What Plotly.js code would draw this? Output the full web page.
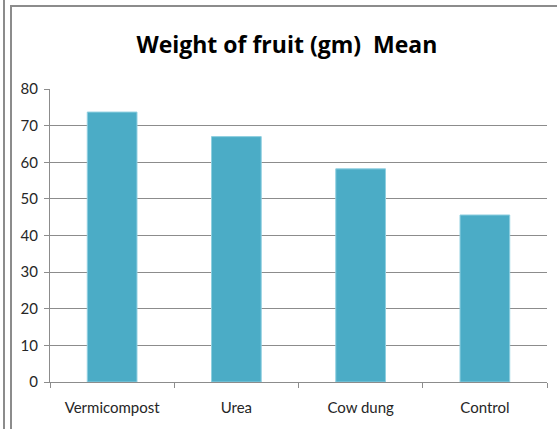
<!DOCTYPE html>
<html>
<head>
<meta charset="utf-8">
<script src="https://cdn.plot.ly/plotly-3.0.1.min.js"></script>
<style>
  html, body { margin: 0; padding: 0; background: #fff; }
  #wrap { position: relative; width: 557px; height: 429px; overflow: hidden; }
  #chart { position: absolute; left: 0; top: 0; width: 557px; height: 429px; }
  .ln { position: absolute; background: #8c8c8c; }
</style>
</head>
<body>
<div id="wrap">
  <div id="chart"></div>
  <div class="ln" style="left:3px; top:0; width:2px; height:429px;"></div>
  <div class="ln" style="left:10px; top:5px; width:2px; height:424px;"></div>
  <div class="ln" style="left:10px; top:5px; width:547px; height:2px;"></div>
</div>
<script>
const categories = ["Vermicompost", "Urea", "Cow dung", "Control"];
const meanWeight = [73.7, 67.0, 58.2, 45.6];
const yTicks = [0, 10, 20, 30, 40, 50, 60, 70, 80];

const trace = {
  type: "bar",
  x: categories,
  y: meanWeight,
  marker: { color: "#4BACC6", line: { color: "#8fcfe0", width: 1 } },
  hoverinfo: "x+y"
};

const layout = {
  width: 557, height: 429,
  margin: { l: 50, r: 10, t: 89, b: 47 },
  paper_bgcolor: "rgba(0,0,0,0)",
  plot_bgcolor: "rgba(0,0,0,0)",
  bargap: 0.6,
  showlegend: false,
  title: {
    text: "Weight of fruit (gm)&nbsp;&nbsp;Mean",
    font: { family: "Open Sans", size: 23, color: "#000", weight: 700 },
    x: 0.515, xanchor: "center", y: 0.895, yanchor: "middle"
  },
  xaxis: {
    type: "category",
    showline: true, linecolor: "#8c8c8c", linewidth: 1,
    ticks: "outside", tickson: "boundaries", ticklen: 5, tickcolor: "#8c8c8c",
    ticklabelstandoff: 12,
    tickfont: { family: "Lato", size: 15, color: "#262626" },
    showgrid: false, zeroline: false
  },
  yaxis: {
    range: [0, 80],
    tickvals: yTicks,
    showline: true, linecolor: "#8c8c8c", linewidth: 1,
    ticks: "outside", ticklen: 5, tickcolor: "#8c8c8c",
    ticklabelstandoff: 3,
    tickfont: { family: "Lato", size: 15, color: "#262626" },
    showgrid: true, gridcolor: "#8c8c8c", gridwidth: 1,
    zeroline: false
  }
};

Plotly.newPlot("chart", [trace], layout, { displayModeBar: false, staticPlot: true });
</script>
</body>
</html>
